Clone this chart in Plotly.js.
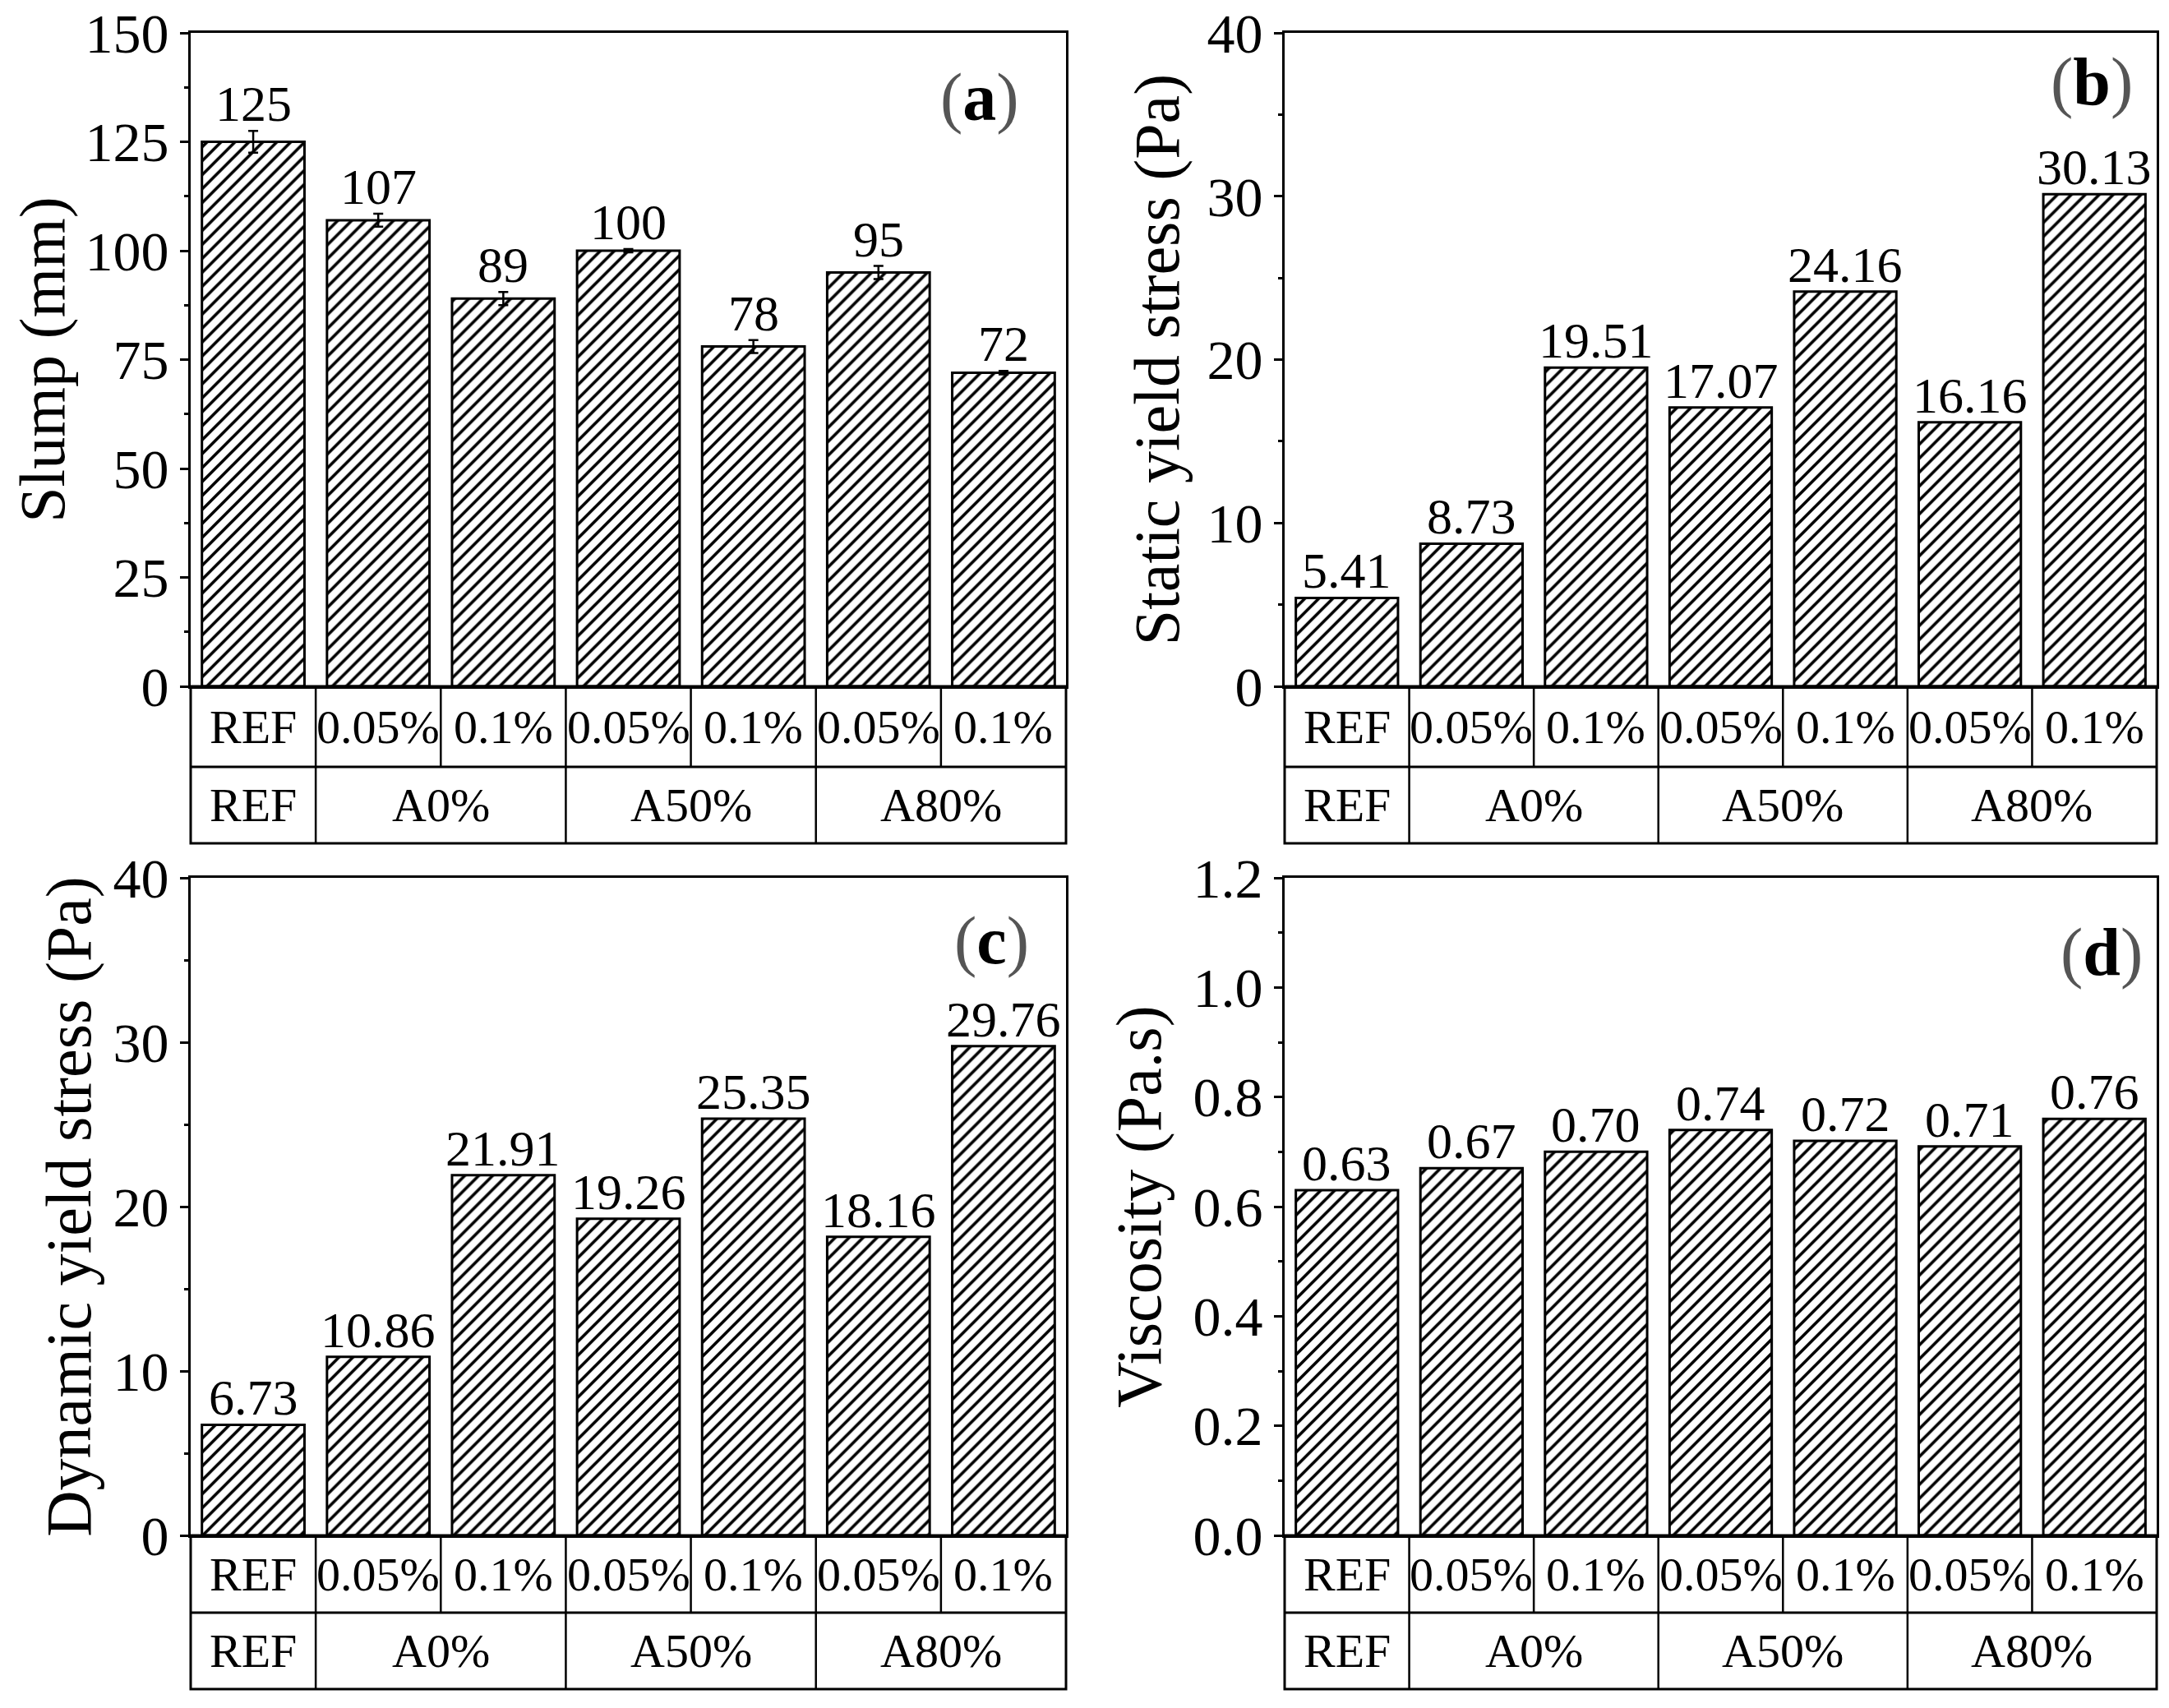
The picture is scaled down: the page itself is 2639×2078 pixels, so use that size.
<!DOCTYPE html>
<html><head><meta charset="utf-8">
<script src="https://cdn.plot.ly/plotly-3.0.1.min.js"></script>
<style>html,body{margin:0;padding:0;background:#fff}</style>
</head><body><div id="chart" style="width:2639px;height:2078px"></div>
<script>
// ---------- data ----------
const categories = ['REF','0.05%','0.1%','0.05%','0.1%','0.05%','0.1%'];
const groups = ['REF','A0%','A50%','A80%'];
const groupStart = [0,1,3,5];
const groupEnd = [0,2,4,6];
const slump = [125,107,89,100,78,95,72];
const slumpErr = [2.5,1.5,1.5,0.4,1.5,1.5,0.4];
const staticYield = [5.41,8.73,19.51,17.07,24.16,16.16,30.13];
const dynamicYield = [6.73,10.86,21.91,19.26,25.35,18.16,29.76];
const viscosity = [0.63,0.67,0.70,0.74,0.72,0.71,0.76];

// ---------- layout helpers ----------
const W = 2639, H = 2078;
const FONT = '"Times New Roman", "Liberation Serif", serif';
const px2x = p => p / W;
const px2y = p => 1 - p / H;

const panels = [
  {id:'', vals:slump, err:slumpErr, dec:0, title:'Slump (mm)', range:[0,150], dtick:25, minor:12.5, fmt:'',
   letter:'a', xpx:[232,1297], ypx:[40,835,933,1026], lx:0.948, ly:0.901, standoff:0},
  {id:'2', vals:staticYield, err:null, dec:2, title:'Static yield stress (Pa)', range:[0,40], dtick:10, minor:5, fmt:'',
   letter:'b', xpx:[1563,2624], ypx:[40,835,933,1026], lx:0.975, ly:0.925, standoff:9},
  {id:'3', vals:dynamicYield, err:null, dec:2, title:'Dynamic yield stress (Pa)', range:[0,40], dtick:10, minor:5, fmt:'',
   letter:'c', xpx:[232,1297], ypx:[1068,1868,1962,2055], lx:0.960, ly:0.905, standoff:2},
  {id:'4', vals:viscosity, err:null, dec:2, title:'Viscosity (Pa.s)', range:[0,1.2], dtick:0.2, minor:0.1, fmt:'.1f',
   letter:'d', xpx:[1563,2624], ypx:[1068,1868,1962,2055], lx:0.986, ly:0.8875, standoff:14}
];

const data = [];
const layout = {
  width: W, height: H,
  margin: {l:0, r:0, t:0, b:0},
  paper_bgcolor: '#fff', plot_bgcolor: '#fff',
  showlegend: false,
  font: {family: FONT, color: '#000'},
  shapes: [], annotations: []
};

const idx = categories.map((_, i) => i);

panels.forEach(p => {
  const xa = 'x' + p.id, ya = 'y' + p.id;
  const xkey = 'xaxis' + p.id, ykey = 'yaxis' + p.id;
  const [top, zero, rb, bot] = p.ypx;

  const trace = {
    type: 'bar', x: idx, y: p.vals, xaxis: xa, yaxis: ya, width: 0.82,
    marker: {color: '#fff', line: {color: '#000', width: 3},
             pattern: {shape: '/', fgcolor: '#000', bgcolor: '#fff', size: 12, solidity: 0.3}},
    hoverinfo: 'skip', showlegend: false
  };
  if (p.err) {
    trace.error_y = {type: 'data', array: p.err, visible: true, color: '#000', thickness: 2.5, width: 6};
  }
  data.push(trace);

  layout[xkey] = {
    domain: [px2x(p.xpx[0]), px2x(p.xpx[1])], anchor: ya,
    range: [-0.5, 6.5], showline: true, mirror: true, linecolor: '#000', linewidth: 3,
    ticks: '', showticklabels: false, showgrid: false, zeroline: false, fixedrange: true
  };
  layout[ykey] = {
    domain: [px2y(zero), px2y(top)], anchor: xa,
    range: p.range, dtick: p.dtick, tick0: 0, tickformat: p.fmt,
    showline: true, mirror: true, linecolor: '#000', linewidth: 3,
    ticks: 'outside', ticklen: 10, tickwidth: 3, tickcolor: '#000',
    minor: {dtick: p.minor, ticks: 'outside', ticklen: 5, tickwidth: 3, tickcolor: '#000', showgrid: false},
    showgrid: false, zeroline: false, fixedrange: true,
    tickfont: {family: FONT, size: 68, color: '#000'},
    title: {text: p.title, standoff: p.standoff, font: {family: FONT, size: 78, color: '#000'}}
  };

  // value labels
  p.vals.forEach((v, i) => {
    layout.annotations.push({
      xref: xa, yref: ya, x: i, y: v + (p.err ? p.err[i] : 0),
      text: v.toFixed(p.dec), showarrow: false, yanchor: 'bottom', yshift: -3,
      font: {family: FONT, size: 62, color: '#000'}
    });
  });

  // panel letter
  layout.annotations.push({
    xref: xa + ' domain', yref: ya + ' domain', x: p.lx, y: p.ly,
    xanchor: 'right', yanchor: 'middle', showarrow: false,
    text: '<span style="color:#555">(</span><b>' + p.letter + '</b><span style="color:#555">)</span>',
    font: {family: FONT, size: 82, color: '#000'}
  });

  // table under the axis
  const ln = {color: '#000', width: 3};
  layout.shapes.push({type: 'rect', xref: xa + ' domain', yref: 'paper', x0: 0, x1: 1,
    y0: px2y(bot), y1: px2y(zero), line: ln});
  layout.shapes.push({type: 'line', xref: xa + ' domain', yref: 'paper', x0: 0, x1: 1,
    y0: px2y(rb), y1: px2y(rb), line: ln});
  for (let i = 0; i < categories.length - 1; i++) {
    layout.shapes.push({type: 'line', xref: xa, yref: 'paper', x0: i + 0.5, x1: i + 0.5,
      y0: px2y(rb), y1: px2y(zero), line: {color: '#000', width: 2.5}});
  }
  for (let g = 0; g < groups.length - 1; g++) {
    layout.shapes.push({type: 'line', xref: xa, yref: 'paper', x0: groupEnd[g] + 0.5, x1: groupEnd[g] + 0.5,
      y0: px2y(bot), y1: px2y(rb), line: {color: '#000', width: 2.5}});
  }
  categories.forEach((c, i) => {
    layout.annotations.push({xref: xa, yref: 'paper', x: i, y: px2y((zero + rb) / 2),
      text: c, showarrow: false, yanchor: 'middle', font: {family: FONT, size: 58, color: '#000'}});
  });
  groups.forEach((g, k) => {
    layout.annotations.push({xref: xa, yref: 'paper', x: (groupStart[k] + groupEnd[k]) / 2, y: px2y((rb + bot) / 2),
      text: g, showarrow: false, yanchor: 'middle', font: {family: FONT, size: 58, color: '#000'}});
  });
});

Plotly.newPlot('chart', data, layout, {staticPlot: true, displayModeBar: false});
</script>
</body></html>
